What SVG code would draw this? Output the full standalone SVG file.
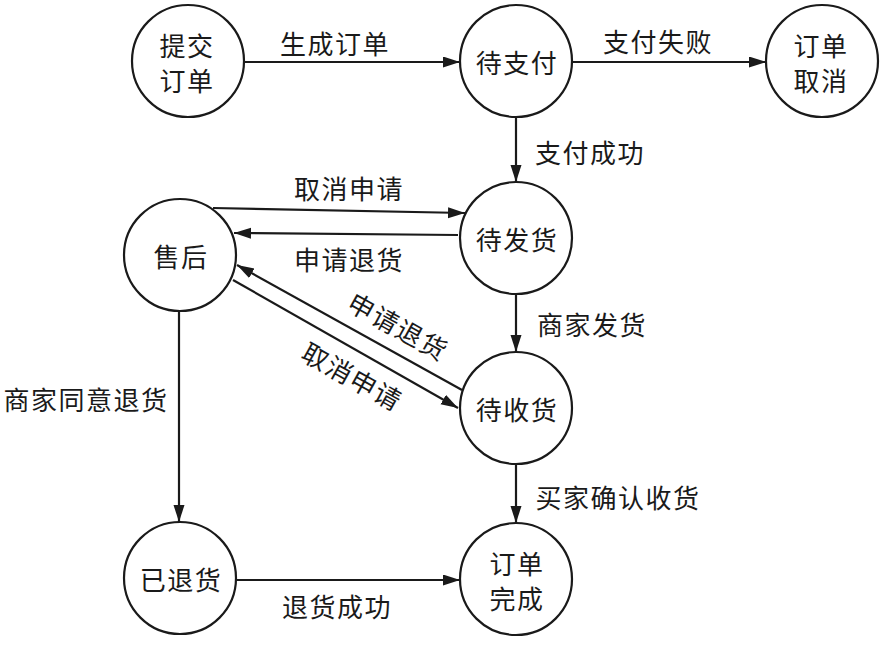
<svg xmlns="http://www.w3.org/2000/svg" width="886" height="654" viewBox="0 0 886 654">
<style>
.node circle{fill:#fff;stroke:#1a1a1a;stroke-width:2.2}
text{font-family:"Noto Sans CJK SC","Noto Sans",sans-serif;font-size:26px;letter-spacing:1.5px;fill:#1a1a1a;text-anchor:middle;dominant-baseline:central}
.edges line{stroke:#1a1a1a;stroke-width:2.2;fill:none;marker-end:url(#ah)}
</style>
<defs>
<marker id="ah" markerUnits="userSpaceOnUse" markerWidth="18" markerHeight="12" refX="17" refY="5.5" orient="auto">
<path d="M0,0 L17,5.5 L0,11 z" fill="#1a1a1a"/>
</marker>
</defs>
<rect width="886" height="654" fill="#fff"/>
<g id="connectors" class="edges">
<line x1="244" y1="62" x2="460" y2="62"/>
<line x1="572" y1="62" x2="766" y2="62"/>
<line x1="516" y1="117" x2="516" y2="182"/>
<line x1="213" y1="208" x2="465" y2="213"/>
<line x1="458" y1="235" x2="234" y2="233"/>
<line x1="516" y1="295" x2="516" y2="352"/>
<line x1="462" y1="390" x2="237" y2="265"/>
<line x1="233" y1="280" x2="458" y2="408"/>
<line x1="516" y1="465" x2="516" y2="523"/>
<line x1="179" y1="311" x2="179" y2="522"/>
<line x1="237" y1="580" x2="460" y2="580"/>
</g>
<g id="edge-labels">
<text x="335" y="42">生成订单</text>
<text x="658" y="40">支付失败</text>
<text x="590" y="151">支付成功</text>
<text x="349" y="187">取消申请</text>
<text x="349" y="258">申请退货</text>
<text x="592" y="323">商家发货</text>
<text x="399" y="325" transform="rotate(29 398 325)">申请退货</text>
<text x="353" y="375" transform="rotate(29 352 375)">取消申请</text>
<text x="86" y="398">商家同意退货</text>
<text x="618" y="496">买家确认收货</text>
<text x="337" y="605">退货成功</text>
</g>
<g id="n-submit" class="node"><circle cx="188" cy="61" r="56"/><text x="187" y="44">提交</text><text x="187" y="79">订单</text></g>
<g id="n-pay" class="node"><circle cx="516" cy="61" r="56"/><text x="517" y="61">待支付</text></g>
<g id="n-cancel" class="node"><circle cx="822" cy="61" r="56"/><text x="821" y="44">订单</text><text x="821" y="79">取消</text></g>
<g id="n-ship" class="node"><circle cx="516" cy="238" r="56"/><text x="517" y="238">待发货</text></g>
<g id="n-after" class="node"><circle cx="180" cy="255" r="56"/><text x="181" y="255">售后</text></g>
<g id="n-receive" class="node"><circle cx="516" cy="408" r="56"/><text x="517" y="408">待收货</text></g>
<g id="n-returned" class="node"><circle cx="180" cy="578" r="56"/><text x="181" y="578">已退货</text></g>
<g id="n-done" class="node"><circle cx="516" cy="579" r="56"/><text x="517" y="562">订单</text><text x="517" y="597">完成</text></g>
</svg>
